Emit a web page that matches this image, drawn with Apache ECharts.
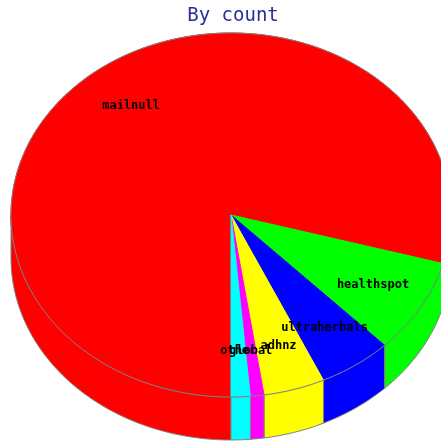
<!DOCTYPE html>
<html><head><meta charset="utf-8">
<script src="https://cdn.jsdelivr.net/npm/echarts@6/dist/echarts.min.js"></script>
<style>html,body{margin:0;padding:0;background:#fff}#c{width:441px;height:446px}</style>
</head><body><div id="c"></div>
<script>
const titleText = 'By count';
const categories = ['mailnull', 'healthspot', 'ultraherbals', 'adhnz', 'global', 'other'];
const counts = [793, 84, 54, 45, 10, 14];
const sliceColors = ['#ff0000', '#00ff00', '#0000ff', '#ffff00', '#ff00ff', '#00ffff'];

const total = counts.reduce((a, b) => a + b, 0);
const starts = [];
let acc = 0;
counts.forEach(v => { starts.push(acc); acc += v; });

// layout of the tilted pie (positions only)
const CX = 231, CY = 215, RX = 220, RY = 182, DEPTH = 43, START = 90, LABEL_R = 0.75;
const EDGE = '#808080';

function pt(deg, dy) {
  const r = deg * Math.PI / 180;
  return [CX + RX * Math.cos(r), CY + RY * Math.sin(r) + (dy || 0)];
}
function arc(a0, a1, dy) {
  const pts = [];
  const n = Math.max(2, Math.ceil(Math.abs(a1 - a0)));
  for (let i = 0; i <= n; i++) pts.push(pt(a0 + (a1 - a0) * i / n, dy));
  return pts;
}

function renderItem(params, api) {
  const i = params.dataIndex;
  const v = api.value(1);
  const a0 = START + starts[i] / total * 360;
  const a1 = a0 + v / total * 360;
  const color = sliceColors[i];
  const children = [];
  for (let k = 0; k < 3; k++) {
    const s = Math.max(a0, k * 360), e = Math.min(a1, k * 360 + 180);
    if (e > s) {
      const top = arc(s, e, 0);
      const bot = arc(e, s, DEPTH);
      children.push({ type: 'polygon', shape: { points: top.concat(bot) },
        style: { fill: color, stroke: EDGE, lineWidth: 1 }, z2: 1 });
    }
  }
  const rim = arc(a0, a1, 0);
  children.push({ type: 'polygon', shape: { points: [[CX, CY]].concat(rim) },
    style: { fill: color, stroke: color, lineWidth: 1 }, z2: 5 });
  children.push({ type: 'polyline', shape: { points: rim },
    style: { fill: null, stroke: EDGE, lineWidth: 1 }, z2: 6 });
  const mid = (a0 + a1) / 2 * Math.PI / 180;
  children.push({ type: 'text', x: CX + LABEL_R * RX * Math.cos(mid), y: CY + LABEL_R * RY * Math.sin(mid),
    style: { text: categories[i], fill: '#000', font: 'bold 12px "DejaVu Sans Mono"', align: 'center', verticalAlign: 'middle' },
    z2: 100 });
  return { type: 'group', children };
}

const chart = echarts.init(document.getElementById('c'), null, { renderer: 'canvas' });
chart.setOption({
  animation: false,
  backgroundColor: '#ffffff',
  title: {
    text: titleText, left: 228, top: 2, textAlign: 'center',
    textStyle: { fontFamily: 'DejaVu Sans Mono', fontSize: 19, fontWeight: 'normal', color: '#2b2b9c' }
  },
  series: [{
    type: 'custom',
    coordinateSystem: 'none',
    renderItem: renderItem,
    data: categories.map((c, i) => ({ name: c, value: [i, counts[i]] }))
  }]
});
</script>
</body></html>
